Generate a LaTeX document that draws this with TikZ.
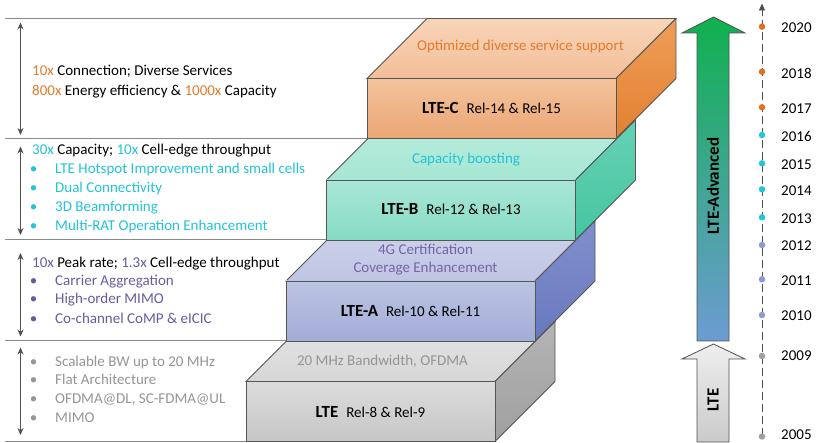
\documentclass[tikz,border=0pt]{standalone}
\usepackage{fontspec}
\setmainfont{Carlito}
\usetikzlibrary{arrows.meta}
\definecolor{txOr}{HTML}{E57A2C}
\definecolor{txCy}{HTML}{22C3D6}
\definecolor{txPu}{HTML}{6B5B9E}
\definecolor{txPl}{HTML}{7565A8}
\definecolor{txGr}{HTML}{959595}
\definecolor{edgeC}{HTML}{555555}
\definecolor{sepC}{HTML}{8A8A8A}
\definecolor{arrC}{HTML}{505050}
% box colours
\definecolor{cTa}{HTML}{F8D5B8}\definecolor{cTb}{HTML}{F2BE98}
\definecolor{cRa}{HTML}{EE9E5A}\definecolor{cRb}{HTML}{E3802F}
\definecolor{cFa}{HTML}{F3C39C}\definecolor{cFb}{HTML}{EBA675}
\definecolor{bTa}{HTML}{BAEDDE}\definecolor{bTb}{HTML}{A6E6D3}
\definecolor{bRa}{HTML}{66D1B4}\definecolor{bRb}{HTML}{46C5A1}
\definecolor{bFa}{HTML}{A9E7D6}\definecolor{bFb}{HTML}{86DBC3}
\definecolor{aTa}{HTML}{D0D4EC}\definecolor{aTb}{HTML}{BFC5E3}
\definecolor{aRa}{HTML}{8090CC}\definecolor{aRb}{HTML}{6878BE}
\definecolor{aFa}{HTML}{BCC4E3}\definecolor{aFb}{HTML}{A2ADD7}
\definecolor{lTa}{HTML}{E6E6E6}\definecolor{lTb}{HTML}{D6D6D6}
\definecolor{lRa}{HTML}{B4B4B4}\definecolor{lRb}{HTML}{A0A0A0}
\definecolor{lFa}{HTML}{DCDCDC}\definecolor{lFb}{HTML}{C6C6C6}
\definecolor{advTop}{HTML}{10B04F}\definecolor{advBot}{HTML}{6C9CD2}
\definecolor{lteTop}{HTML}{EEEEEE}\definecolor{lteBot}{HTML}{CBCBCB}
\definecolor{dOr}{HTML}{E07020}\definecolor{dCy}{HTML}{1FC8D8}
\definecolor{dPu}{HTML}{8C9AD6}\definecolor{dGr}{HTML}{A0A0A0}

\newcommand\lteBold{\fontsize{17}{20}\selectfont\bfseries}
\newcommand\ltebox[8]{%
  \path[boxedge, top color=#3, bottom color=#4] (#1,#2-60) -- (#1+60,#2-120) -- (#1+309,#2-120) -- (#1+249,#2-60) -- cycle;
  \path[boxedge, top color=#5, bottom color=#6] (#1+249,#2-60) -- (#1+309,#2-120) -- (#1+309,#2-60) -- (#1+249,#2) -- cycle;
  \path[boxedge, top color=#7, bottom color=#8] (#1,#2-60) rectangle (#1+249,#2);
}

\begin{document}
\begin{tikzpicture}[x=1pt,y=-1pt,
  boxedge/.style={draw=edgeC, line width=0.8pt, line join=miter},
  sepline/.style={draw=sepC, line width=1pt},
  dblarrow/.style={draw=arrC, line width=1pt, {Stealth[length=7pt,width=6pt]}-{Stealth[length=7pt,width=6pt]}},
  lbl/.style={inner sep=0pt, font=\fontsize{15}{18}\selectfont},
  bigb/.style={font=\lteBold},
  yr/.style={inner sep=0pt, anchor=west, font=\fontsize{15}{18}\selectfont},
  tdot/.style={circle, inner sep=0pt, minimum size=6.5pt},
  tline/.style={draw=arrC, line width=0.9pt, dash pattern=on 8pt off 4pt, -{Triangle[length=7pt,width=6pt]}},
  bigarrow/.style={draw=arrC, line width=0.8pt, line join=miter}
]
\useasboundingbox (0,0) rectangle (817,443);

% separators
\draw[sepline] (5,18.5) -- (427,18.5);
\draw[sepline] (5,138.5) -- (367,138.5);
\draw[sepline] (5,240) -- (326.5,240);
\draw[sepline] (5,341) -- (286,341);
\draw[sepline] (5,441.5) -- (246,441.5);

% double arrows
\coordinate (a1t) at (20.5,22.5); \coordinate (a1b) at (20.5,135);
\coordinate (a2t) at (20.5,146.5); \coordinate (a2b) at (20.5,235);
\coordinate (a3t) at (20.5,253); \coordinate (a3b) at (20.5,336.5);
\coordinate (a4t) at (20.5,347.5); \coordinate (a4b) at (20.5,435);
\draw[dblarrow] (a1t) -- (a1b);
\draw[dblarrow] (a2t) -- (a2b);
\draw[dblarrow] (a3t) -- (a3b);
\draw[dblarrow] (a4t) -- (a4b);

% boxes (bottom to top)
\ltebox{246}{441.5}{lTa}{lTb}{lRa}{lRb}{lFa}{lFb}
\ltebox{286}{341}{aTa}{aTb}{aRa}{aRb}{aFa}{aFb}
\ltebox{326.5}{240}{bTa}{bTb}{bRa}{bRb}{bFa}{bFb}
\ltebox{367}{138.5}{cTa}{cTb}{cRa}{cRb}{cFa}{cFb}

% box labels
\node[lbl, anchor=base, text=txOr] (ctop) at (520.5,50.5) {Optimized diverse service support};
\node[lbl, anchor=base] (cfront) at (491.5,114) {{\lteBold LTE-C}\hspace{8pt}Rel-14 \& Rel-15};
\node[lbl, anchor=base, text=txCy] (btop) at (466,163.3) {Capacity boosting};
\node[lbl, anchor=base] (bfront) at (451,214.3) {{\lteBold LTE-B}\hspace{8pt}Rel-12 \& Rel-13};
\node[lbl, anchor=base, text=txPl] (atop1) at (425.5,255) {4G Certification};
\node[lbl, anchor=base, text=txPl] (atop2) at (425.5,272.7) {Coverage Enhancement};
\node[lbl, anchor=base] (afront) at (410.5,316.7) {{\lteBold LTE-A}\hspace{8pt}Rel-10 \& Rel-11};
\node[lbl, anchor=base, text=txGr] (ltop) at (382.5,366) {20 MHz Bandwidth, OFDMA};
\node[lbl, anchor=base] (lfront) at (370.5,417.7) {{\lteBold LTE}\hspace{8pt}Rel-8 \& Rel-9};

% left texts block 1
\node[lbl, anchor=base west] (t1a) at (32,76) {\textcolor{txOr}{10x} Connection; Diverse Services};
\node[lbl, anchor=base west] (t1b) at (32,95.5) {\textcolor{txOr}{800x} Energy efficiency \& \textcolor{txOr}{1000x} Capacity};
% block 2
\node[lbl, anchor=base west] (t2a) at (32,155) {\textcolor{txCy}{30x} Capacity; \textcolor{txCy}{10x} Cell-edge throughput};
\node[lbl, anchor=base, text=txCy] (b2a) at (33.5,174) {•};
\node[lbl, anchor=base west, text=txCy] (t2b) at (55,174) {LTE Hotspot Improvement and small cells};
\node[lbl, anchor=base, text=txCy] (b2b) at (33.5,192.7) {•};
\node[lbl, anchor=base west, text=txCy] (t2c) at (55,192.7) {Dual Connectivity};
\node[lbl, anchor=base, text=txCy] (b2c) at (33.5,211.5) {•};
\node[lbl, anchor=base west, text=txCy] (t2d) at (55,211.5) {3D Beamforming};
\node[lbl, anchor=base, text=txCy] (b2d) at (33.5,230.5) {•};
\node[lbl, anchor=base west, text=txCy] (t2e) at (55,230.5) {Multi-RAT Operation Enhancement};
% block 3
\node[lbl, anchor=base west] (t3a) at (32,267.3) {\textcolor{txPu}{10x} Peak rate; \textcolor{txPu}{1.3x} Cell-edge throughput};
\node[lbl, anchor=base, text=txPu] (b3a) at (33.5,285.7) {•};
\node[lbl, anchor=base west, text=txPu] (t3b) at (55,285.7) {Carrier Aggregation};
\node[lbl, anchor=base, text=txPu] (b3b) at (33.5,304) {•};
\node[lbl, anchor=base west, text=txPu] (t3c) at (55,304) {High-order MIMO};
\node[lbl, anchor=base, text=txPu] (b3c) at (33.5,323.3) {•};
\node[lbl, anchor=base west, text=txPu] (t3d) at (55,323.3) {Co-channel CoMP \& eICIC};
% block 4
\node[lbl, anchor=base, text=txGr] (b4a) at (33.5,366.7) {•};
\node[lbl, anchor=base west, text=txGr] (t4a) at (55,366.7) {Scalable BW up to 20 MHz};
\node[lbl, anchor=base, text=txGr] (b4b) at (33.5,385) {•};
\node[lbl, anchor=base west, text=txGr] (t4b) at (55,385) {Flat Architecture};
\node[lbl, anchor=base, text=txGr] (b4c) at (33.5,403.3) {•};
\node[lbl, anchor=base west, text=txGr] (t4c) at (55,403.3) {OFDMA@DL, SC-FDMA@UL};
\node[lbl, anchor=base, text=txGr] (b4d) at (33.5,422.3) {•};
\node[lbl, anchor=base west, text=txGr] (t4d) at (55,422.3) {MIMO};

% big arrows
\path[bigarrow, top color=advTop, bottom color=advBot]
  (697,341) -- (729,341) -- (729,33) -- (745,33) -- (713.5,17) -- (682,33) -- (697,33) -- cycle;
\node[bigb, rotate=90] (advlbl) at (713,186) {LTE-Advanced};
\path[bigarrow, top color=lteTop, bottom color=lteBot]
  (697,442) -- (729,442) -- (729,359) -- (745,359) -- (713.5,344) -- (682,359) -- (697,359) -- cycle;
\node[bigb, rotate=90] (ltelbl) at (713,400) {LTE};

% timeline
\coordinate (tlBot) at (762,436.5);
\coordinate (tlTop) at (762,3.5);
\draw[tline] (tlBot) -- (tlTop);
\node[tdot, fill=dOr] (d2020) at (762,26.7) {};
\node[tdot, fill=dOr] (d2018) at (762,71.7) {};
\node[tdot, fill=dOr] (d2017) at (762,107.3) {};
\node[tdot, fill=dCy] (d2016) at (762,135) {};
\node[tdot, fill=dCy] (d2015) at (762,163.3) {};
\node[tdot, fill=dCy] (d2014) at (762,189.3) {};
\node[tdot, fill=dCy] (d2013) at (762,217.3) {};
\node[tdot, fill=dPu] (d2012) at (762,245) {};
\node[tdot, fill=dPu] (d2011) at (762,279.3) {};
\node[tdot, fill=dPu] (d2010) at (762,315) {};
\node[tdot, fill=dGr] (d2009) at (762,356) {};
\node[tdot, fill=dGr] (d2005) at (762,436.5) {};
\node[yr] (y2020) at (781,28) {2020};
\node[yr] (y2018) at (781,73.5) {2018};
\node[yr] (y2017) at (781,109) {2017};
\node[yr] (y2016) at (781,136.5) {2016};
\node[yr] (y2015) at (781,164.5) {2015};
\node[yr] (y2014) at (781,191) {2014};
\node[yr] (y2013) at (781,218.5) {2013};
\node[yr] (y2012) at (781,246) {2012};
\node[yr] (y2011) at (781,280.5) {2011};
\node[yr] (y2010) at (781,316) {2010};
\node[yr] (y2009) at (781,355.5) {2009};
\node[yr] (y2005) at (781,434.5) {2005};
\end{tikzpicture}
\end{document}
